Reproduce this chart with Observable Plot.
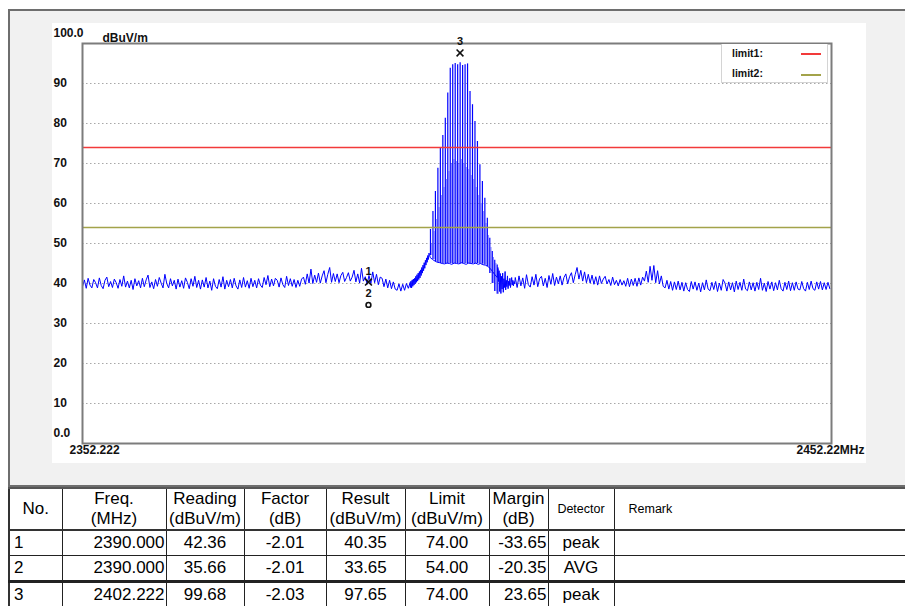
<!DOCTYPE html>
<html><head><meta charset="utf-8">
<script src="https://cdn.jsdelivr.net/npm/d3@7"></script>
<script src="https://cdn.jsdelivr.net/npm/@observablehq/plot@0.6"></script>
<style>
html,body{margin:0;padding:0;background:#fff;width:905px;height:606px;overflow:hidden;font-family:"Liberation Sans",Arial,sans-serif;}
#panel{position:absolute;left:8px;top:9px;width:897px;height:474px;background:#f1f1f1;border-left:2px solid #6e6e6e;border-top:2px solid #6e6e6e;border-bottom:2px solid #6e6e6e;}
#white{position:absolute;left:52px;top:23px;width:814px;height:440px;background:#fff;}
#chart{position:absolute;left:0;top:0;}
#legend{position:absolute;left:721px;top:44px;width:105px;height:38px;border:1px solid #d4d4d4;border-top:none;background:#fff;}
.lg{position:absolute;font:bold 10.5px "Liberation Sans",Arial,sans-serif;color:#111;}
.ls{position:absolute;height:1.5px;width:20px;}
#tbl{position:absolute;left:8px;top:487px;border-collapse:collapse;table-layout:fixed;width:1000px;font-size:17px;color:#000;}
#tbl td{border:1px solid #222;padding:0;overflow:hidden;white-space:nowrap;}
#tbl tr.h td{height:40px;line-height:20px;text-align:center;}
#tbl tr.r td{height:24px;line-height:24px;}
#tbl tr.thick td{border-bottom:3px solid #222;}
#tbl tr.h td{border-top:2px solid #555;border-bottom:2px solid #333;}
#tbl td.first{border-left:2px solid #333;}
</style></head>
<body>
<div id="panel"></div>
<div id="white"></div>
<div id="chart"></div>
<div id="legend"></div>
<table id="tbl"></table>
<script>
// ---------- axis / text data ----------
const xDomain = [2352.222, 2452.22];
const xEdgeLabels = ["2352.222", "2452.22MHz"];
const yUnit = "dBuV/m";
const yGridLevels = [10, 20, 30, 40, 50, 60, 70, 80, 90];
const yMidLabels = ["10", "20", "30", "40", "50", "60", "70", "80", "90"];
const yEdgeLevels = [0, 100];
const yEdgeLabels = ["0.0", "100.0"];

// ---------- limits ----------
const limitNames = ["limit1:", "limit2:"];
const limitValues = [74, 54];
const limitColors = ["rgb(242,58,58)", "rgb(163,163,74)"];

// ---------- trace (sweep segments: start, step, values) ----------
const segStart = [2352.222, 2396.0, 2398.64, 2407.68, 2410.0];
const segStep = [0.25, 0.08, 0.32, 0.08, 0.25];
const traceLeft = [
  39.2, 40.9, 38.8, 41.3, 39.6, 38.9, 41.0, 40.2,
  38.9, 41.4, 39.5, 38.7, 40.8, 41.6, 39.2, 40.5,
  39.0, 41.1, 40.2, 38.8, 41.0, 39.3, 41.9, 39.1,
  40.6, 38.9, 40.8, 38.5, 41.2, 39.4, 40.7, 38.9,
  41.3, 39.2, 40.9, 42.1, 39.0, 40.4, 38.7, 41.0,
  39.3, 41.5, 40.1, 38.9, 42.3, 40.0, 38.9, 41.2,
  39.4, 40.8, 38.6, 41.1, 39.1, 40.7, 38.8, 41.4,
  40.3, 38.7, 41.2, 39.3, 41.8, 39.0, 40.8, 38.6,
  40.9, 39.1, 41.5, 38.9, 40.6, 38.3, 41.2, 39.3,
  38.7, 41.0, 39.1, 41.7, 38.6, 40.8, 39.2, 41.0,
  38.9, 41.3, 39.4, 38.6, 40.9, 39.0, 41.5, 39.1,
  40.7, 38.8, 41.3, 39.2, 40.8, 38.9, 41.2, 39.6,
  39.0, 41.5, 39.7, 42.0, 39.2, 41.1, 39.4, 41.3,
  40.8, 39.1, 41.4, 39.7, 39.0, 41.8, 39.5, 41.2,
  39.3, 41.0, 39.0, 40.8, 39.3, 41.1, 41.6, 39.8,
  42.4, 40.1, 43.6, 40.0, 42.1, 40.3, 42.6, 40.1,
  41.9, 43.2, 40.2, 42.3, 44.0, 40.3, 42.5, 40.5,
  42.4, 40.2, 42.0, 42.8, 40.5, 41.5, 42.7, 40.6,
  41.6, 43.3, 40.4, 42.4, 40.1, 43.8, 40.6, 41.7,
  39.8, 42.0, 40.0, 42.9, 40.2, 42.3, 39.7, 41.6,
  41.3, 39.2, 41.1, 38.9, 40.8, 38.7, 40.4, 38.6,
  38.3, 39.9, 38.1, 39.8, 38.3, 40.0, 38.8, 40.3
];
const traceRise = [
  39.0, 40.6, 38.9, 40.9, 39.3, 41.1, 39.6, 41.3,
  39.9, 41.8, 40.3, 42.2, 40.6, 42.6, 41.0, 43.0,
  41.4, 43.4, 42.0, 44.0, 42.6, 44.6, 43.2, 45.2,
  43.8, 45.8, 44.6, 46.4, 45.3, 47.0, 46.0, 47.6, 47.2
];
const tracePlateau = [
  46.5, 46.0, 45.6, 45.3, 45.2, 45.0, 44.9, 45.1, 45.0, 44.8,
  45.1, 45.0, 44.9, 45.2, 45.0, 44.8, 45.1, 45.0, 44.9, 45.1,
  44.8, 45.0, 44.7, 44.6, 44.3, 43.8, 43.0, 42.2, 41.5
];
const traceTail = [
  44.0, 40.5, 43.2, 38.0, 42.5, 37.5, 41.8, 38.6, 42.6, 37.8,
  41.2, 39.0, 43.0, 38.4, 40.8, 39.2, 41.9, 38.7, 40.6, 39.5,
  41.3, 39.0, 40.2, 41.5, 39.6, 40.8, 39.4, 40.5, 39.9
];
const traceRight = [
  41.5, 39.0, 41.9, 39.4, 41.4, 38.8, 42.2, 39.7,
  39.1, 41.7, 39.6, 42.3, 39.2, 41.2, 41.8, 39.4,
  41.3, 39.0, 42.0, 39.8, 42.5, 39.5, 41.6, 39.9,
  41.9, 39.6, 41.5, 42.4, 39.9, 41.7, 42.7, 40.2,
  42.2, 44.0, 41.1, 43.3, 40.6, 42.9, 40.2, 42.3,
  40.1, 42.1, 39.8, 41.7, 39.6, 41.9, 40.0, 41.1,
  41.8, 39.9, 41.0, 39.5, 41.6, 39.7, 40.8, 39.4,
  41.0, 39.6, 40.7, 39.3, 41.3, 39.2, 41.1, 39.5,
  41.3, 39.3, 41.4, 39.6, 41.6, 40.6, 43.1, 40.3,
  44.3, 40.8, 44.5, 40.2, 43.2, 39.9, 41.9, 39.3,
  38.9, 40.8, 38.6, 40.5, 38.3, 40.4, 38.5, 40.6,
  38.4, 40.3, 38.1, 40.2, 38.5, 38.0, 40.5, 38.6,
  40.4, 38.3, 40.1, 37.9, 40.2, 38.4, 40.9, 38.6,
  38.2, 40.3, 38.5, 40.5, 38.0, 40.1, 38.3, 41.0,
  40.1, 38.1, 40.4, 38.4, 40.2, 37.9, 40.6, 38.5,
  40.3, 38.3, 41.1, 38.6, 38.2, 40.4, 38.4, 40.2,
  38.1, 40.3, 38.5, 41.3, 38.3, 40.1, 38.0, 40.5,
  38.6, 40.4, 38.2, 40.2, 38.4, 40.8, 38.7, 38.1,
  40.3, 38.5, 40.6, 38.2, 40.2, 38.3, 40.4, 38.6,
  38.4, 40.5, 38.7, 38.1, 40.3, 38.5, 40.6, 38.7,
  38.3, 40.4, 38.6, 40.5, 38.4, 40.2, 38.5, 40.3,
  38.7
];

// ---------- modulation comb (vertical spectral lines) ----------
const combStart = 2398.68;
const combStep = 0.33;
const combHigh = [53.5, 58.0, 63.0, 68.8, 73.8, 77.0, 81.3, 87.6, 93.8, 94.7, 95.0, 94.7, 95.2, 94.5,
                  94.7, 94.9, 88.0, 84.7, 80.5, 75.5, 69.7, 65.5, 61.3, 56.3, 51.3, 48.0, 45.8, 44.6];
const combMid = [50.0, 53.0, 56.0, 59.0, 62.0, 64.0, 66.0, 68.0, 70.0, 71.0, 70.5, 70.0, 71.0, 70.0,
                 69.0, 68.5, 67.0, 66.0, 64.0, 62.0, 60.0, 58.0, 55.0, 52.0, 49.0, 46.5, 45.0, 43.5];
const combFloor = [47.0, 46.0, 45.5, 45.2, 45.0, 45.0, 44.9, 45.0, 45.0, 44.9, 45.0, 45.0, 44.9, 45.0,
                   45.0, 44.9, 45.0, 45.0, 44.9, 45.0, 44.9, 44.8, 44.6, 44.2, 42.5, 40.0, 38.0, 37.3];

// ---------- marker table ----------
const tableHeader1 = ["No.", "Freq.", "Reading", "Factor", "Result", "Limit", "Margin", "Detector", "Remark"];
const tableHeader2 = ["", "(MHz)", "(dBuV/m)", "(dB)", "(dBuV/m)", "(dBuV/m)", "(dB)", "", ""];
const mkNo = ["1", "2", "3"];
const mkFreq = [2390.000, 2390.000, 2402.222];
const mkReading = [42.36, 35.66, 99.68];
const mkFactor = [-2.01, -2.01, -2.03];
const mkResult = [40.35, 33.65, 97.65];
const mkLimit = [74.00, 54.00, 74.00];
const mkMargin = [-33.65, -20.35, 23.65];
const mkDetector = ["peak", "AVG", "peak"];
const mkSymbol = ["times", "circle", "times"];

// ---------- build ----------
const trace = [traceLeft, traceRise, tracePlateau, traceTail, traceRight].flatMap((vals, s) =>
  vals.map((v, i) => ({f: segStart[s] + i * segStep[s], v})));
const teeth = combHigh.map((h, i) => ({f: combStart + i * combStep, hi: h, mid: combMid[i], lo: combFloor[i]}));
const markers = mkNo.map((n, i) => ({n, f: mkFreq[i], v: mkResult[i], s: mkSymbol[i]}));
const limits = limitValues.map((v, i) => ({v, c: limitColors[i]}));
const font = {fontFamily: "Liberation Sans, Arial, sans-serif", fontWeight: "bold", fontSize: 12, fill: "#111"};

const chart = Plot.plot({
  width: 905, height: 487,
  marginLeft: 82, marginRight: 74, marginTop: 43, marginBottom: 44,
  x: {domain: xDomain, axis: null},
  y: {domain: [0, 100], axis: null},
  style: {background: "transparent", overflow: "visible"},
  marks: [
    Plot.ruleY(yGridLevels, {stroke: "#a8a8a8", strokeDasharray: "1.5,2.5", strokeWidth: 1.2}),
    Plot.ruleX(teeth, {x: d => d.f + combStep / 2, y1: "lo", y2: "mid", stroke: "#0000ff", strokeOpacity: 0.45, strokeWidth: 1}),
    Plot.ruleX(teeth, {x: "f", y1: "lo", y2: "hi", stroke: "#0000ff", strokeWidth: 1.2}),
    Plot.line(trace, {x: "f", y: "v", stroke: "#0000ff", strokeWidth: 1}),
    Plot.ruleY(limits, {y: "v", stroke: "c", strokeWidth: 1.3}),
    Plot.frame({stroke: "#7c7c7c", strokeWidth: 2}),
    Plot.text(yGridLevels, {y: d => d, text: (d, i) => yMidLabels[i], frameAnchor: "left", textAnchor: "start", dx: -29, ...font}),
    Plot.text(yEdgeLevels, {y: d => d, text: (d, i) => yEdgeLabels[i], frameAnchor: "left", textAnchor: "start", dx: -29, dy: -10, ...font}),
    Plot.text([yUnit], {text: d => d, frameAnchor: "top-left", textAnchor: "start", dx: 20, dy: -10, ...font}),
    Plot.text([xEdgeLabels[0]], {text: d => d, frameAnchor: "bottom-left", textAnchor: "start", dx: -13, dy: 10, ...font}),
    Plot.text([xEdgeLabels[1]], {text: d => d, frameAnchor: "bottom-right", textAnchor: "end", dx: 33, dy: 10, ...font}),
    Plot.dot(markers.filter(d => d.s === "times"), {x: "f", y: "v", symbol: "times", r: 3.2, stroke: "#111", strokeWidth: 1.6, dx: 3}),
    Plot.dot(markers.filter(d => d.s === "circle"), {x: "f", y: "v", symbol: "circle", r: 2.4, stroke: "#111", strokeWidth: 1.6, dx: 3, dy: -4}),
    Plot.text(markers.filter(d => d.s === "times"), {x: "f", y: "v", text: "n", dx: 3, dy: -11, ...font, fontSize: 11}),
    Plot.text(markers.filter(d => d.s === "circle"), {x: "f", y: "v", text: "n", dx: 3, dy: -15, ...font, fontSize: 11})
  ]
});
document.getElementById("chart").appendChild(chart);

// legend
const lg = document.getElementById("legend");
limitNames.forEach((name, i) => {
  const t = document.createElement("div");
  t.className = "lg"; t.textContent = name;
  t.style.left = "10px"; t.style.top = (3 + i * 20) + "px";
  lg.appendChild(t);
  const s = document.createElement("div");
  s.className = "ls"; s.style.background = limitColors[i];
  s.style.left = "79px"; s.style.top = (9 + i * 21) + "px";
  lg.appendChild(s);
});

// table
const colW = [53, 104, 78, 82, 79, 84, 59, 66, 395];
const tbl = document.getElementById("tbl");
const cg = document.createElement("colgroup");
colW.forEach(w => { const c = document.createElement("col"); c.style.width = w + "px"; cg.appendChild(c); });
tbl.appendChild(cg);
const hr = tbl.insertRow(); hr.className = "h";
tableHeader1.forEach((h, j) => {
  const td = hr.insertCell();
  if (j === 0) td.className = "first";
  if (j >= 7) {
    td.style.fontSize = "12.5px";
    td.textContent = h;
    if (j === 8) { td.style.textAlign = "left"; td.style.paddingLeft = "14px"; }
  } else {
    td.innerHTML = tableHeader2[j] ? h + "<br>" + tableHeader2[j] : h;
  }
});
mkNo.forEach((n, i) => {
  const r = tbl.insertRow(); r.className = "r" + (i === 1 ? " thick" : "");
  const vals = [n, mkFreq[i].toFixed(3), mkReading[i].toFixed(2), mkFactor[i].toFixed(2), mkResult[i].toFixed(2),
                mkLimit[i].toFixed(2), mkMargin[i].toFixed(2), mkDetector[i], ""];
  vals.forEach((v, j) => {
    const td = r.insertCell(); td.textContent = v;
    if (j === 0) { td.className = "first"; td.style.paddingLeft = "4px"; }
    else if (j === 1 || j === 6) { td.style.textAlign = "right"; td.style.paddingRight = "1px"; }
    else td.style.textAlign = "center";
  });
});
</script>
</body></html>
